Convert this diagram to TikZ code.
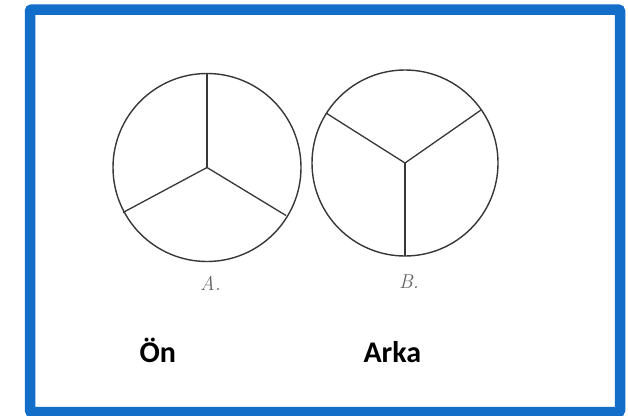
\documentclass[tikz,border=0pt]{standalone}
\usepackage{fontspec}
\newfontfamily\labelfont{Carlito}
\definecolor{framblue}{RGB}{18,110,200}
\definecolor{inkgray}{RGB}{55,55,55}
\definecolor{lblgray}{RGB}{100,100,100}
\begin{document}
\begin{tikzpicture}[x=1pt,y=-1pt,
  frame/.style={draw=framblue,line width=10.5pt,rounded corners=2pt},
  disc/.style={draw=inkgray,line width=1.4pt},
  spoke/.style={draw=inkgray,line width=1.3pt},
  letter/.style={text=lblgray,font=\fontsize{20}{20}\selectfont\itshape,anchor=base},
  caption/.style={font=\labelfont\bfseries\fontsize{30}{30}\selectfont,anchor=base west,text=black}]
\useasboundingbox (0,0) rectangle (628,415);
\fill[white] (0,0) rectangle (628,415);
\draw[frame] (30,9.5) rectangle (620,412);
% circle A
\coordinate (ca) at (207,167.5);
\draw[disc] (ca) circle[radius=94];
\draw[spoke] (ca) -- ++(0,-94) coordinate (ta);
\draw[spoke] (ca) -- ++(-84,45) coordinate (la);
\draw[spoke] (ca) -- ++(79,48) coordinate (ra);
% circle B
\coordinate (cb) at (405,163);
\draw[disc] (cb) circle[radius=93];
\draw[spoke] (cb) -- ++(0,93) coordinate (bb);
\draw[spoke] (cb) -- ++(-79,-50) coordinate (lb);
\draw[spoke] (cb) -- ++(76,-53) coordinate (rb);
\node[letter] (labA) at (210.5,290) {A.};
\node[letter] (labB) at (409,288) {B.};
\node[caption] (on) at (136,362) {Ön};
\node[caption] (arka) at (360,362) {Arka};
\end{tikzpicture}
\end{document}
